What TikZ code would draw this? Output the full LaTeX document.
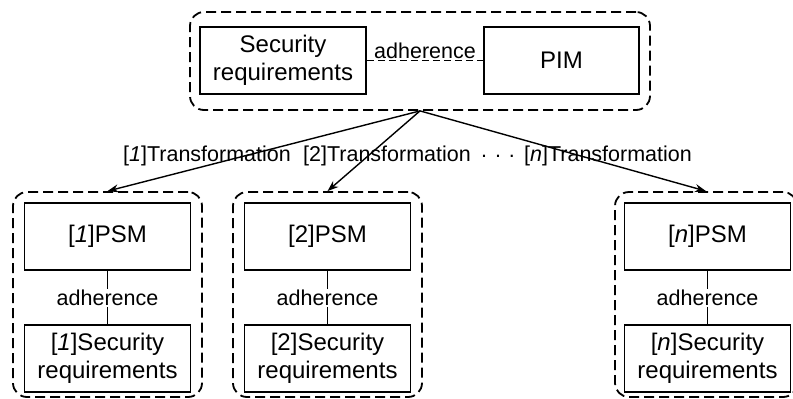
\documentclass[tikz,border=0pt]{standalone}
\usepackage{fontspec}
\setmainfont{Liberation Sans}
\usetikzlibrary{arrows.meta}

\begin{document}
\begin{tikzpicture}[x=1pt,y=-1pt,
    box/.style={draw,line width=1.6pt,minimum width=166pt,minimum height=67pt,align=center,inner sep=2pt,font=\fontsize{24}{28}\selectfont},
    grp/.style={draw,line width=1.8pt,dash pattern=on 10pt off 5pt,rounded corners=14pt,minimum height=205pt},
    lbl/.style={font=\fontsize{21.5}{24}\selectfont,inner sep=1pt},
    trans/.style={-{Stealth[length=11pt,width=8pt]},line width=1.4pt}]
  \useasboundingbox (0,0) rectangle (793,399);
  %Gruppen
  \node[grp,minimum width=460pt,minimum height=98pt] (top) at (420,61) {};
  \node[grp,minimum width=189pt] (g1) at (107.5,294.5) {};
  \node[grp,minimum width=189pt] (g2) at (327.5,294.5) {};
  \node[grp,minimum width=182pt] (gn) at (706,294.5) {};
  %Kaesten oben
  \node[box] (secreq) at (283,60.5) {Security\\requirements};
  \node[box,minimum width=155pt] (pim) at (561.5,60.5) {PIM};
  \draw[line width=1pt,dash pattern=on 7pt off 4pt] (secreq.east) -- node[lbl,above] (adh) {adherence} (pim.west);
  %Kaesten unten
  \node[box] (psm1) at (107.5,236.5) {[\textit{1}]PSM};
  \node[box] (sec1) at (107.5,358.5) {[\textit{1}]Security\\requirements};
  \node[box] (psm2) at (327.5,236.5) {[2]PSM};
  \node[box] (sec2) at (327.5,358.5) {[2]Security\\requirements};
  \node[box] (psmn) at (707.5,236.5) {[\textit{n}]PSM};
  \node[box] (secn) at (707.5,358.5) {[\textit{n}]Security\\requirements};
  %adherence unten
  \node[lbl] (adh1) at (107.5,298) {adherence};
  \node[lbl] (adh2) at (327.5,298) {adherence};
  \node[lbl] (adhn) at (707.5,298) {adherence};
  \draw[line width=1.3pt] (psm1.south) -- (adh1.north) (adh1.south) -- (sec1.north);
  \draw[line width=1.3pt] (psm2.south) -- (adh2.north) (adh2.south) -- (sec2.north);
  \draw[line width=1.3pt] (psmn.south) -- (adhn.north) (adhn.south) -- (secn.north);
  %Transformationen
  \node[lbl] (t1) at (207,156) {[\textit{1}]Transformation};
  \node[lbl] (t2) at (387,156) {[2]Transformation};
  \node[lbl] (dots) at (498,156) {. . .};
  \node[lbl] (tn) at (608,156) {[\textit{n}]Transformation};
  \draw[trans] (top.south) -- (g1.north);
  \draw[trans] (top.south) -- (g2.north);
  \draw[trans] (top.south) -- (gn.north);
\end{tikzpicture}
\end{document}
